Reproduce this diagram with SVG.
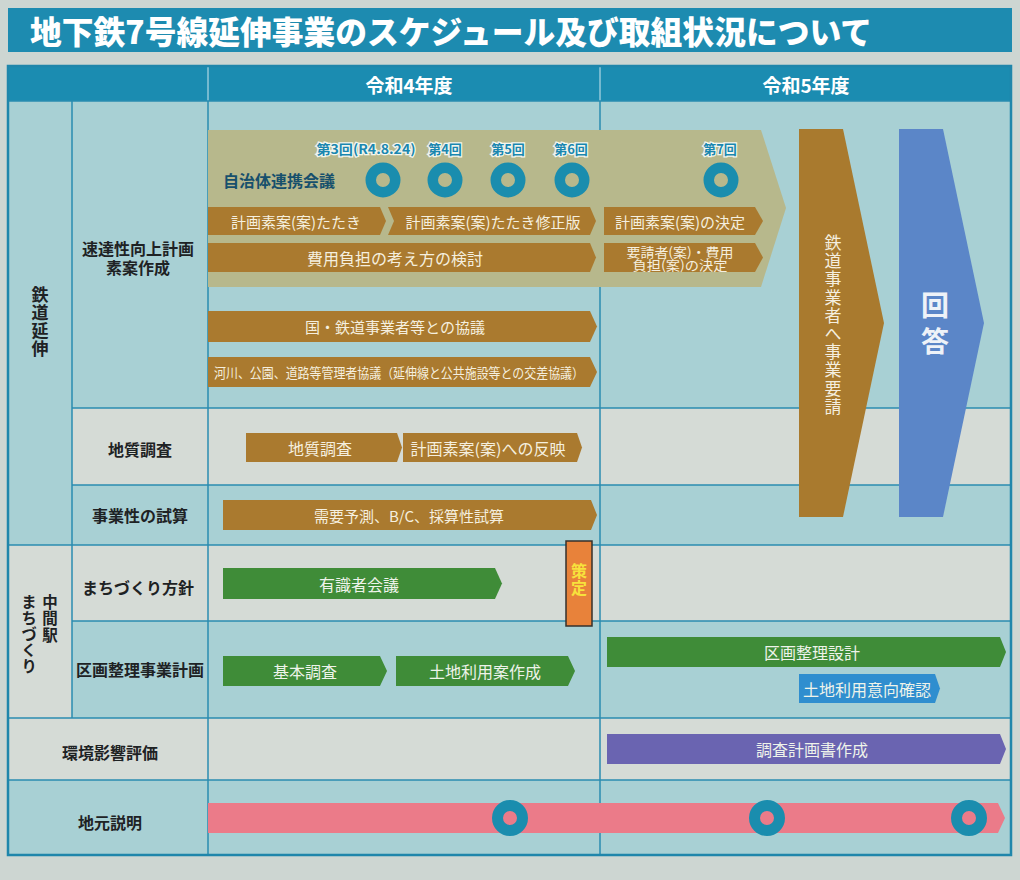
<svg xmlns="http://www.w3.org/2000/svg" width="1020" height="880" viewBox="0 0 1020 880">
<style>
text{font-family:"Noto Sans CJK JP","Noto Sans",sans-serif;dominant-baseline:central;}
.lbl{font-size:16px;font-weight:700;fill:#1e2224;text-anchor:middle;}
.vt{writing-mode:vertical-rl;text-anchor:middle;}
.bt{font-size:15px;fill:#f5efdf;text-anchor:middle;}
.gt{font-size:16px;fill:#eef3ea;text-anchor:middle;}
.brown{fill:#aa7a2f;}
.green{fill:#3f8c38;}
.grid{stroke:#2a8cb0;stroke-width:1.5;fill:none;}
.ring{fill:none;stroke:#1a8dae;stroke-width:10.5;}
.rl{font-size:13px;font-weight:700;fill:#1a87b0;stroke:#f2f6ee;stroke-width:2.5;paint-order:stroke;text-anchor:middle;}
.teal{fill:#a8d0d4;}
.gray{fill:#d5dbd6;}
</style>
<rect x="0" y="0" width="1020" height="880" fill="#cdd6d2"/>
<g id="title">
<rect x="8" y="8" width="1004" height="44" fill="#1d8bb0"/>
<text x="30" y="30" font-size="32" font-weight="900" fill="#ffffff" textLength="842" lengthAdjust="spacingAndGlyphs">地下鉄7号線延伸事業のスケジュール及び取組状況について</text>
</g>
<g id="table-bg">
<rect x="8" y="66" width="1003" height="35" fill="#1b8cb1"/>
<rect class="teal" x="8" y="101" width="1003" height="307"/>
<rect class="teal" x="8" y="408" width="64" height="137"/>
<rect class="gray" x="72" y="408" width="939" height="77"/>
<rect class="teal" x="72" y="485" width="939" height="60"/>
<rect class="gray" x="8" y="545" width="1003" height="76"/>
<rect class="gray" x="8" y="621" width="64" height="97"/>
<rect class="teal" x="72" y="621" width="939" height="97"/>
<rect class="gray" x="8" y="718" width="1003" height="62"/>
<rect class="teal" x="8" y="780" width="1003" height="75"/>
</g>
<g id="grid">
<line class="grid" x1="72" y1="101" x2="72" y2="718"/>
<line class="grid" x1="208" y1="101" x2="208" y2="855"/>
<line class="grid" x1="600" y1="101" x2="600" y2="855"/>
<line x1="208" y1="66" x2="208" y2="101" stroke="#cfe6ee" stroke-width="1"/>
<line x1="600" y1="66" x2="600" y2="101" stroke="#cfe6ee" stroke-width="1"/>
<line class="grid" x1="8" y1="101" x2="1011" y2="101"/>
<line class="grid" x1="72" y1="408" x2="1011" y2="408"/>
<line class="grid" x1="72" y1="485" x2="1011" y2="485"/>
<line class="grid" x1="8" y1="545" x2="1011" y2="545"/>
<line class="grid" x1="72" y1="621" x2="1011" y2="621"/>
<line class="grid" x1="8" y1="718" x2="1011" y2="718"/>
<line class="grid" x1="8" y1="780" x2="1011" y2="780"/>
<rect x="8" y="66" width="1003" height="789" fill="none" stroke="#1f86ab" stroke-width="2.5"/>
</g>
<g id="header">
<text x="409" y="84" font-size="19" font-weight="700" fill="#ffffff" text-anchor="middle">令和4年度</text>
<text x="806" y="84" font-size="19" font-weight="700" fill="#ffffff" text-anchor="middle">令和5年度</text>
</g>
<g id="row-labels">
<text class="vt" x="40" y="322" font-size="17" font-weight="700" fill="#1e2224" letter-spacing="1">鉄道延伸</text>
<text class="lbl" x="138"><tspan x="138" y="248">速達性向上計画</tspan><tspan x="138" y="267">素案作成</tspan></text>
<text class="lbl" x="140" y="449">地質調査</text>
<text class="lbl" x="140" y="515">事業性の試算</text>
<text class="lbl" x="138" y="587">まちづくり方針</text>
<text class="lbl" x="140" y="669">区画整理事業計画</text>
<text class="vt" x="50" y="619" font-size="15.5" font-weight="700" fill="#1e2224" letter-spacing="1">中間駅</text>
<text class="vt" x="29" y="634" font-size="15.5" font-weight="700" fill="#1e2224" letter-spacing="0.5">まちづくり</text>
<text class="lbl" x="110" y="752">環境影響評価</text>
<text class="lbl" x="110" y="822">地元説明</text>
</g>
<g id="band-jichitai">
<polygon points="208,130 761,130 786,208 761,287 208,287" fill="#b7b88c"/>
<text x="223" y="180" font-size="16" font-weight="700" fill="#17506c">自治体連携会議</text>
<text class="rl" x="366" y="148" textLength="99" lengthAdjust="spacingAndGlyphs">第3回(R4.8.24)</text>
<text class="rl" x="445" y="148">第4回</text>
<text class="rl" x="508" y="148">第5回</text>
<text class="rl" x="571" y="148">第6回</text>
<text class="rl" x="720" y="148">第7回</text>
<circle class="ring" cx="383" cy="180" r="12.25"/>
<circle class="ring" cx="445" cy="180" r="12.25"/>
<circle class="ring" cx="508" cy="180" r="12.25"/>
<circle class="ring" cx="572" cy="180" r="12.25"/>
<circle class="ring" cx="721" cy="180" r="12.25"/>
</g>
<g id="bar-tataki"><polygon class="brown" points="208,207 380,207 386,221 380,235 208,235"/><text class="bt" x="296" y="221">計画素案(案)たたき</text></g>
<g id="bar-tataki-rev"><polygon class="brown" points="388,207 590,207 596,221 590,235 388,235 394,221"/><text class="bt" x="493" y="221">計画素案(案)たたき修正版</text></g>
<g id="bar-kettei"><polygon class="brown" points="604,207 755,207 763,221 755,235 604,235"/><text class="bt" x="680" y="221">計画素案(案)の決定</text></g>
<g id="bar-hiyou"><polygon class="brown" points="208,243 590,243 596,257.5 590,272 208,272"/><text class="bt" x="395" y="257.5" style="font-size:16px">費用負担の考え方の検討</text></g>
<g id="bar-yousei"><polygon class="brown" points="604,243 755,243 763,257.5 755,272 604,272"/><text class="bt" x="680" style="font-size:13px"><tspan x="680" y="251" textLength="107" lengthAdjust="spacingAndGlyphs">要請者(案)・費用</tspan><tspan x="680" y="264" textLength="95" lengthAdjust="spacingAndGlyphs">負担(案)の決定</tspan></text></g>
<g id="bar-kuni"><polygon class="brown" points="208,311 590,311 597,326.5 590,342 208,342"/><text class="bt" x="395" y="326.5" textLength="180" lengthAdjust="spacingAndGlyphs">国・鉄道事業者等との協議</text></g>
<g id="bar-kasen"><polygon class="brown" points="208,357 590,357 597,372 590,387 208,387"/><text class="bt" x="399" y="372" style="font-size:13.5px" textLength="370" lengthAdjust="spacingAndGlyphs">河川、公園、道路等管理者協議（延伸線と公共施設等との交差協議）</text></g>
<g id="bar-chishitsu"><polygon class="brown" points="246,433 397,433 402,447.5 397,462 246,462"/><text class="bt" x="320" y="447.5" style="font-size:16px">地質調査</text></g>
<g id="bar-hanei"><polygon class="brown" points="403,433 577,433 582,447.5 577,462 403,462"/><text class="bt" x="488" y="447.5" style="font-size:16px">計画素案(案)への反映</text></g>
<g id="bar-juyou"><polygon class="brown" points="223,500 591,500 597,515 591,530 223,530"/><text class="bt" x="409" y="515">需要予測、B/C、採算性試算</text></g>
<g id="bar-yushiki"><polygon class="green" points="223,568 495,568 502,583.5 495,599 223,599"/><text class="gt" x="359" y="583.5">有識者会議</text></g>
<g id="box-sakutei"><rect x="566" y="541" width="26" height="85" fill="#e8823a" stroke="#34302c" stroke-width="1.5"/><text class="vt" x="579" y="580" font-size="16" font-weight="700" fill="#f7e23c" letter-spacing="1">策定</text></g>
<g id="bar-kihon"><polygon class="green" points="223,656 380,656 387,671 380,686 223,686"/><text class="gt" x="305" y="671">基本調査</text></g>
<g id="bar-tochiriyou"><polygon class="green" points="396,656 568,656 575,671 568,686 396,686"/><text class="gt" x="485" y="671">土地利用案作成</text></g>
<g id="bar-kukaku"><polygon class="green" points="607,637 1000,637 1006,652 1000,667 607,667"/><text class="gt" x="812" y="652">区画整理設計</text></g>
<g id="bar-ikou"><polygon fill="#2f8ecf" points="799,674 935,674 940,688.5 935,703 799,703"/><text class="gt" x="867" y="688.5">土地利用意向確認</text></g>
<g id="bar-chousa"><polygon fill="#6a64b1" points="607,734 1000,734 1006,749 1000,764 607,764"/><text class="gt" x="812" y="749">調査計画書作成</text></g>
<g id="bar-jimoto">
<polygon fill="#eb7b89" points="208,803 998,803 1005,818 998,833 208,833"/>
<circle class="ring" cx="510" cy="818" r="12.5" style="stroke-width:11"/>
<circle class="ring" cx="767" cy="818" r="12.5" style="stroke-width:11"/>
<circle class="ring" cx="969" cy="818" r="12.5" style="stroke-width:11"/>
</g>
<g id="arrow-youkyu">
<polygon fill="#a97a2e" points="799,129 843,129 884,323 843,517 799,517"/>
<text class="vt" x="833" y="325" font-size="17" fill="#f4eedf" letter-spacing="1.2">鉄道事業者へ事業要請</text>
</g>
<g id="arrow-kaitou">
<polygon fill="#5b86c8" points="899,129 943,129 984,323 943,517 899,517"/>
<text class="vt" x="935" y="327" font-size="28" font-weight="700" fill="#eef2f8" letter-spacing="8">回答</text>
</g>
<g id="connectors"/>
</svg>
